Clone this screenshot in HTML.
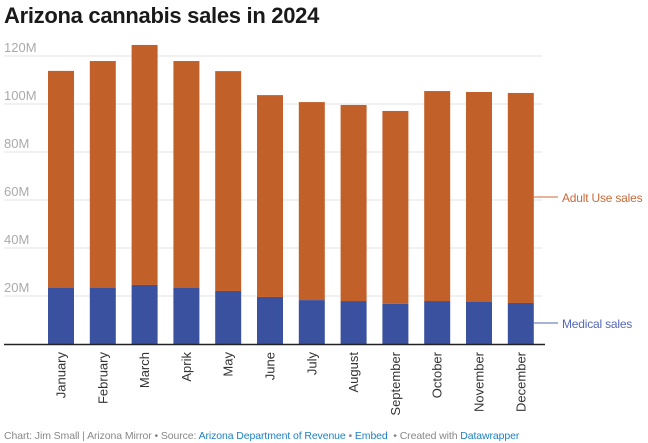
<!DOCTYPE html>
<html><head><meta charset="utf-8"><style>
body{margin:0;background:#fff;width:648px;height:443px;overflow:hidden;font-family:"Liberation Sans",sans-serif}
#title{position:absolute;left:4px;top:3px;font-size:22px;font-weight:bold;color:#1a1a1a;letter-spacing:-0.3px}
#footer{position:absolute;left:4px;top:430px;font-size:10.5px;color:#888;letter-spacing:-0.1px}
#footer span{color:#1d81c4}
</style></head><body>
<div id="title">Arizona cannabis sales in 2024</div>
<svg id="chart" width="648" height="443" style="position:absolute;left:0;top:0"></svg>
<div id="footer">Chart: Jim Small | Arizona Mirror • Source: <span>Arizona Department of Revenue</span> • <span>Embed</span> &nbsp;• Created with <span>Datawrapper</span></div>
<script>
const months=["January","February","March","Aprik","May","June","July","August","September","October","November","December"];
const medical=[23.5,23.5,24.6,23.5,22.1,19.6,18.3,17.9,16.7,17.9,17.5,17.1];
const adult=[90.3,94.4,100.0,94.4,91.6,84.1,82.5,81.7,80.4,87.5,87.5,87.5];
const yTicks=[20,40,60,80,100,120];
const yTickLabels=["20M","40M","60M","80M","100M","120M"];
const NS="http://www.w3.org/2000/svg";
const svg=document.getElementById('chart');
const y0=344,pxPerM=2.4;
function y(v){return y0-v*pxPerM;}
function xc(i){return 61+i*41.8;}
function mk(t,a){const e=document.createElementNS(NS,t);for(const k in a)e.setAttribute(k,a[k]);svg.appendChild(e);return e;}
yTicks.forEach((t,i)=>{
  const g=mk('line',{x1:4,x2:542,y1:y(t),y2:y(t),stroke:'#e3e3e3','stroke-width':1});
  
  
  const tx=mk('text',{x:4,y:y(t)-4,'font-size':13,fill:'#aaa'});
  tx.textContent=yTickLabels[i];
  
  
});
months.forEach((m,i)=>{
  const x=xc(i)-13;
  const r1=mk('rect',{x:x,y:y(medical[i]),width:26,height:medical[i]*pxPerM,fill:'#3a51a0'});
  
  
  const tot=medical[i]+adult[i];
  const r2=mk('rect',{x:x,y:y(tot),width:26,height:adult[i]*pxPerM,fill:'#c2602a'});
  
  
  const t=mk('text',{transform:`translate(${xc(i)+4.5},352) rotate(-90)`,'text-anchor':'end','font-size':13,fill:'#333'});
  t.textContent=m;
  
  
});
const base=mk('line',{x1:4,x2:545,y1:y0+0.5,y2:y0+0.5,stroke:'#222','stroke-width':1.5});


const l1=mk('line',{x1:534,x2:558,y1:197,y2:197,stroke:'#e6b49a','stroke-width':2});


const t1=mk('text',{x:562,y:202,'font-size':12,fill:'#c96a3a','letter-spacing':'-0.2'});t1.textContent='Adult Use sales';


const l2=mk('line',{x1:534,x2:558,y1:323,y2:323,stroke:'#a9b3d9','stroke-width':2});


const t2=mk('text',{x:562,y:328,'font-size':12,fill:'#5568b8','letter-spacing':'-0.2'});t2.textContent='Medical sales';


</script>
</body></html>
